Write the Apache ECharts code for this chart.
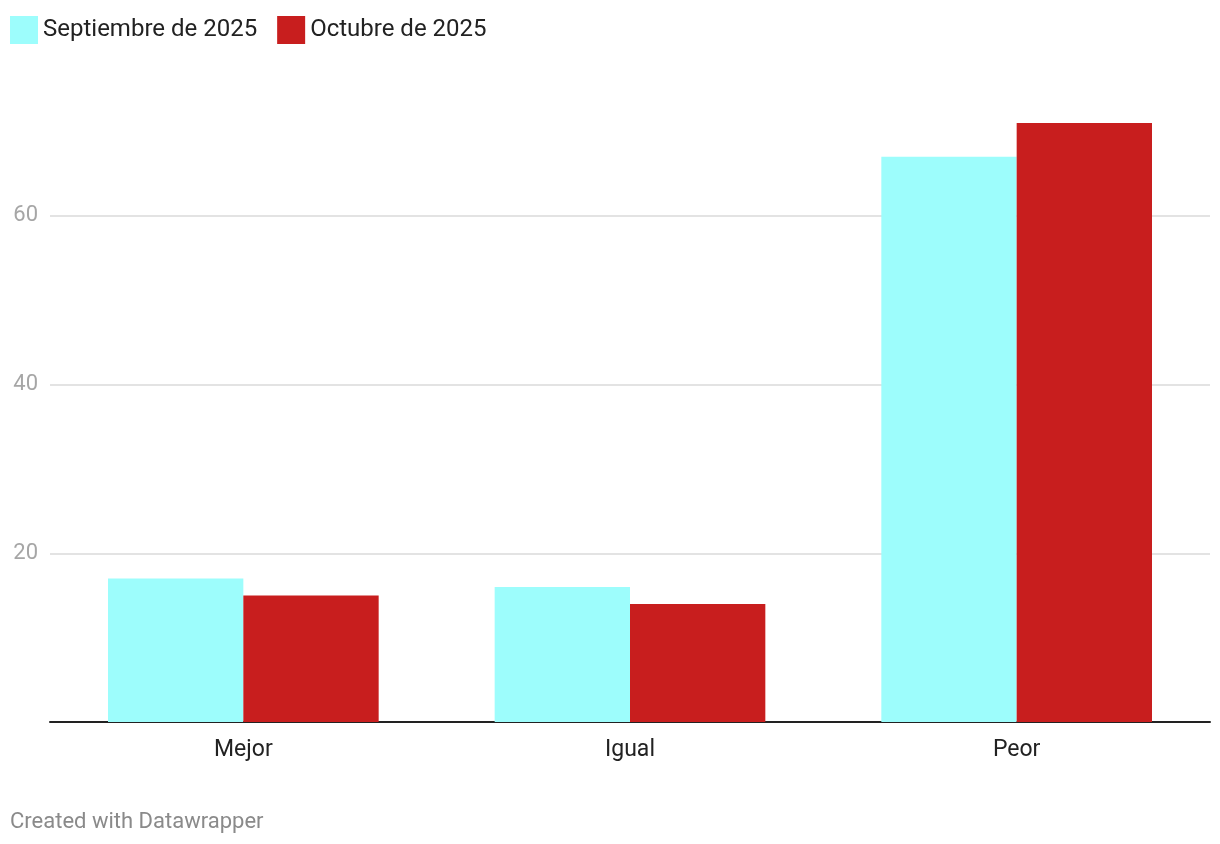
<!DOCTYPE html>
<html>
<head>
<meta charset="utf-8">
<script src="https://cdn.jsdelivr.net/npm/echarts@6/dist/echarts.min.js"></script>
<style>
html,body{margin:0;padding:0;background:#fff;}
#chart{width:1220px;height:844px;}
</style>
</head>
<body>
<div id="chart"></div>
<script>
const categories = ["Mejor", "Igual", "Peor"];
const seriesNames = ["Septiembre de 2025", "Octubre de 2025"];
const septValues = [17, 16, 67];
const octValues = [15, 14, 71];
const yTicks = [0, 20, 40, 60];

const chart = echarts.init(document.getElementById('chart'), null, {renderer: 'canvas'});
const font = 'Roboto, "Noto Sans", sans-serif';
chart.setOption({
  animation: false,
  backgroundColor: '#ffffff',
  legend: {
    left: 10, top: 14, padding: [2, 0, 0, 0],
    icon: 'rect',
    itemWidth: 28, itemHeight: 28,
    itemGap: 20,
    textStyle: {fontFamily: font, fontSize: 24, color: '#222'},
    data: seriesNames
  },
  graphic: [{
    type: 'text', left: 10, top: 811,
    style: {text: 'Created with Datawrapper', font: '22px ' + font, fill: '#8a8a8a'}
  }],
  grid: {left: 50, right: 10, top: 123, bottom: 122, containLabel: false},
  xAxis: {
    type: 'category',
    data: categories,
    axisLine: {show: true, lineStyle: {color: '#222', width: 2}},
    axisTick: {show: false},
    axisLabel: {fontFamily: font, fontSize: 23, color: '#222', margin: 17}
  },
  yAxis: {
    type: 'value',
    min: 0, max: 71, interval: 20,
    axisLine: {show: false},
    axisTick: {show: false},
    axisLabel: {
      fontFamily: font, fontSize: 22, color: '#a6a6a6', margin: 12,
      showMaxLabel: false,
      formatter: v => yTicks.includes(v) && v !== 0 ? String(v) : ''
    },
    splitLine: {show: true, showMaxLine: false, lineStyle: {color: '#e3e3e3', width: 2}}
  },
  series: [
    {name: seriesNames[0], type: 'bar', data: septValues, barGap: '0%', barCategoryGap: '30%', itemStyle: {color: '#9dfdfc'}},
    {name: seriesNames[1], type: 'bar', data: octValues, barGap: '0%', barCategoryGap: '30%', itemStyle: {color: '#c81e1e'}}
  ]
});
</script>
</body>
</html>
